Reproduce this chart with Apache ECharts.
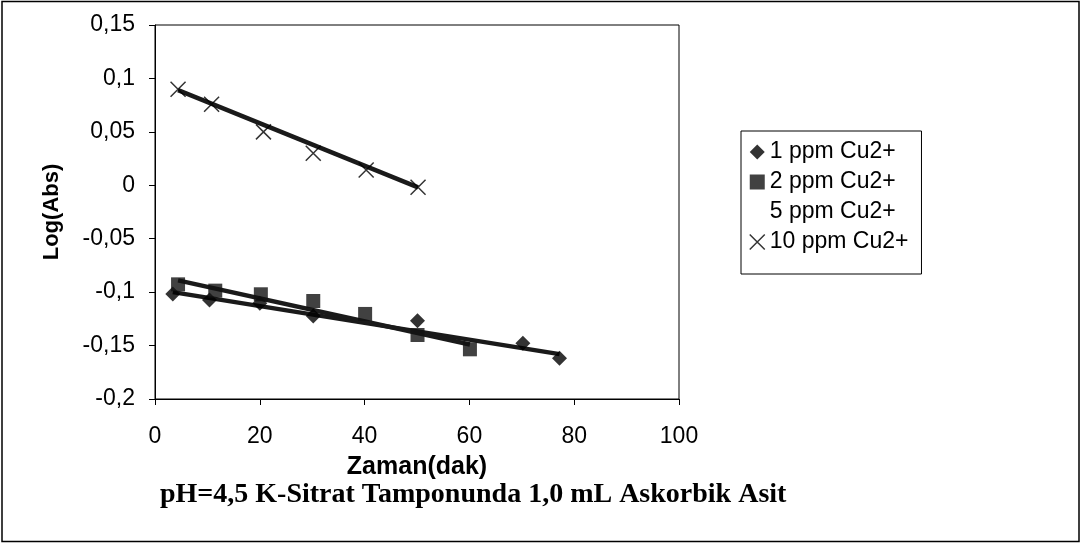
<!DOCTYPE html>
<html><head><meta charset="utf-8">
<script src="https://cdn.jsdelivr.net/npm/echarts@6/dist/echarts.min.js"></script>
<style>html,body{margin:0;padding:0;background:#fff}#c{width:1082px;height:545px}</style>
</head><body><div id="c"></div>
<script>
// Data
const seriesNames = ['1 ppm Cu2+', '2 ppm Cu2+', '5 ppm Cu2+', '10 ppm Cu2+'];
const time1 = [3.4, 10.4, 20.0, 30.2, 50.1, 70.2, 77.2];
const log1  = [-0.1017, -0.1073, -0.1104, -0.1223, -0.1267, -0.1479, -0.1619];
const time2 = [4.4, 11.5, 20.2, 30.2, 40.1, 50.1, 60.1];
const log2  = [-0.0927, -0.0986, -0.1020, -0.1083, -0.1204, -0.1401, -0.1535];
const time10 = [4.4, 10.8, 20.7, 30.2, 40.3, 50.2];
const log10  = [0.0898, 0.0758, 0.0500, 0.0300, 0.0143, -0.0019];
// Trend line end points
const trend1X = [3.4, 77.2],  trend1Y = [-0.100, -0.158];
const trend2X = [4.4, 60.1],  trend2Y = [-0.089, -0.149];
const trend10X = [4.4, 50.2], trend10Y = [0.089, -0.002];
const xTitle = 'Zaman(dak)';
const yTitle = 'Log(Abs)';
const subTitle = 'pH=4,5 K-Sitrat Tamponunda 1,0 mL Askorbik Asit';

const zip = (a, b) => a.map((v, i) => [v, b[i]]);
const crossPath = 'path://M0,0L10,10M10,0L0,10';

const chart = echarts.init(document.getElementById('c'), null, {renderer: 'canvas'});
const trendStyle = {color: '#1a1a1a', width: 4.5};
chart.setOption({
  animation: false,
  backgroundColor: '#fff',
  title: {
    text: subTitle, left: 160, top: 481, padding: 0,
    textStyle: {fontFamily: 'Liberation Serif', fontWeight: 'bold', fontSize: 28, color: '#000'}
  },
  grid: {left: 155, right: 403, top: 25, bottom: 146, show: true, borderColor: '#000', borderWidth: 1, backgroundColor: '#fff'},
  legend: {
    orient: 'vertical', left: 741, top: 131,
    padding: [9, 13, 20, 8], itemGap: 6, itemWidth: 15, itemHeight: 15,
    borderColor: '#000', borderWidth: 1, backgroundColor: '#fff',
    textStyle: {fontFamily: 'Liberation Sans', fontSize: 23, color: '#000', lineHeight: 24},
    data: [
      {name: seriesNames[0], icon: 'diamond'},
      {name: seriesNames[1], icon: 'rect'},
      {name: seriesNames[2], icon: 'rect', itemStyle: {color: 'rgba(0,0,0,0)'}},
      {name: seriesNames[3], icon: crossPath, itemStyle: {color: 'rgba(0,0,0,0)', borderColor: '#000', borderWidth: 1.5}}
    ]
  },
  xAxis: {
    type: 'value', min: 0, max: 100, interval: 20,
    name: xTitle, nameLocation: 'middle', nameGap: 56,
    nameTextStyle: {fontFamily: 'Liberation Sans', fontWeight: 'bold', fontSize: 25, color: '#000'},
    axisLine: {onZero: false, lineStyle: {color: '#000', width: 1}},
    axisTick: {show: true, inside: false, length: 6, lineStyle: {color: '#000'}},
    axisLabel: {fontFamily: 'Liberation Sans', fontSize: 23, color: '#000', margin: 26},
    splitLine: {show: false}
  },
  yAxis: {
    type: 'value', min: -0.2, max: 0.15, interval: 0.05,
    name: yTitle, nameLocation: 'middle', nameGap: 92, nameRotate: 90,
    nameTextStyle: {fontFamily: 'Liberation Sans', fontWeight: 'bold', fontSize: 22, color: '#000'},
    axisLine: {onZero: false, lineStyle: {color: '#000', width: 1}},
    axisTick: {show: true, inside: false, length: 6, lineStyle: {color: '#000'}},
    axisLabel: {fontFamily: 'Liberation Sans', fontSize: 23, color: '#000', margin: 20,
      formatter: v => String(Number(v.toFixed(2))).replace('.', ',')},
    splitLine: {show: false}
  },
  graphic: [{
    type: 'rect', silent: true, z: 100,
    shape: {x: 2, y: 1.5, width: 1077, height: 540},
    style: {fill: 'none', stroke: '#000', lineWidth: 1.5}
  }],
  series: [
    {type: 'line', data: zip(trend1X, trend1Y), symbol: 'none', lineStyle: trendStyle, z: 2, silent: true},
    {type: 'line', data: zip(trend2X, trend2Y), symbol: 'none', lineStyle: trendStyle, z: 2, silent: true},
    {type: 'line', data: zip(trend10X, trend10Y), symbol: 'none', lineStyle: trendStyle, z: 2, silent: true},
    {name: seriesNames[0], type: 'scatter', data: zip(time1, log1), symbol: 'diamond', symbolSize: 15, itemStyle: {color: '#000'}, z: 3},
    {name: seriesNames[1], type: 'scatter', data: zip(time2, log2), symbol: 'rect', symbolSize: 14, itemStyle: {color: '#111'}, z: 3},
    {name: seriesNames[2], type: 'scatter', data: [], symbol: 'rect', itemStyle: {color: 'rgba(0,0,0,0)'}},
    {name: seriesNames[3], type: 'scatter', data: zip(time10, log10), symbol: crossPath, symbolSize: 15,
      itemStyle: {color: 'rgba(0,0,0,0)', borderColor: '#000', borderWidth: 1.5}, z: 3}
  ]
});
</script>
</body></html>
